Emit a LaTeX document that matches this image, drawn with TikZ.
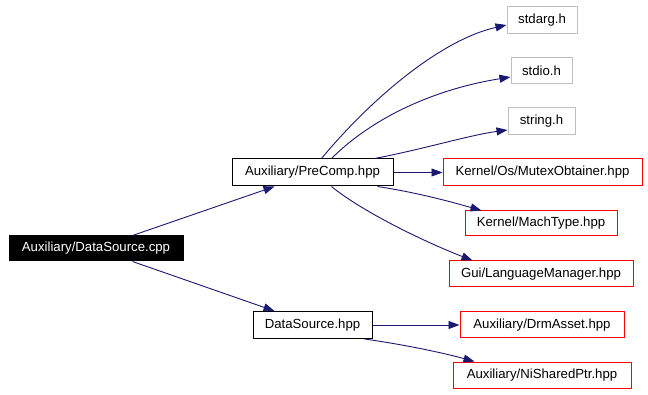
\documentclass[tikz,border=0pt]{standalone}
\usepackage{fontspec}
\setmainfont{Liberation Sans}
\usetikzlibrary{arrows.meta,calc}
\definecolor{edgeblue}{HTML}{191970}
\definecolor{boxgray}{HTML}{BFBFBF}
\tikzset{
  filebox/.style={draw=black, line width=1pt, fill=white, inner sep=0pt,
    minimum height=26pt, font=\fontsize{13.2}{15}\selectfont, anchor=center},
  rootbox/.style={filebox, fill=black, text=white},
  extbox/.style={filebox, draw=boxgray},
  missbox/.style={filebox, draw=red},
  dep/.style={draw=edgeblue, line width=0.9pt,
    -{Triangle[length=11pt,width=8pt]}, fill=none},
}
\begin{document}
\begin{tikzpicture}[x=1pt,y=-1pt]
\useasboundingbox[fill=white] (0,0) rectangle (648,395);

% source file and its direct includes
\node[rootbox, minimum width=174pt, minimum height=25pt] (cpp) at (96,248.5) {Auxiliary/DataSource.cpp};
\node[filebox, minimum width=161pt, minimum height=27pt] (pre) at (312.5,172.5) {Auxiliary/PreComp.hpp};
\node[filebox, minimum width=119pt, minimum height=27pt] (dsh) at (312.5,325) {DataSource.hpp};

% headers pulled in by PreComp.hpp
\node[extbox, minimum width=70pt, minimum height=27pt] (stdarg) at (542,20.5) {stdarg.h};
\node[extbox, minimum width=61pt] (stdio) at (541.5,71) {stdio.h};
\node[extbox, minimum width=67pt, minimum height=27pt] (string) at (541.5,121.5) {string.h};
\node[missbox, minimum width=199pt, minimum height=27pt] (mutex) at (542.5,172.5) {Kernel/Os/MutexObtainer.hpp};
\node[missbox, minimum width=152pt, minimum height=25pt] (mach) at (541,223.5) {Kernel/MachType.hpp};
\node[missbox, minimum width=184pt] (lang) at (541,274) {Gui/LanguageManager.hpp};

% headers pulled in by DataSource.hpp
\node[missbox, minimum width=164pt] (drm) at (542,325) {Auxiliary/DrmAsset.hpp};
\node[missbox, minimum width=178pt] (nisp) at (542,375) {Auxiliary/NiSharedPtr.hpp};

% include edges
\draw[dep] ($(cpp.north west)+(124,0)$) -- ($(pre.south west)+(43,0)$);
\draw[dep] ($(cpp.south west)+(124,0)$) -- ($(dsh.north west)+(22,0)$);

\draw[dep] ($(pre.north west)+(90,0)$) .. controls (370,100) and (440,40) .. ($(stdarg.west)+(0,4.5)$);
\draw[dep] ($(pre.north west)+(100,0)$) .. controls (370,120) and (430,90) .. ($(stdio.west)+(0,6)$);
\draw[dep] ($(pre.north west)+(143,0)$) .. controls (420,150) and (470,135) .. ($(string.west)+(0,8.5)$);
\draw[dep] (pre.east) -- (mutex.west);
\draw[dep] ($(pre.south west)+(146,0)$) .. controls (420,193) and (455,203) .. ($(mach.north west)+(17,0)$);
\draw[dep] ($(pre.south west)+(100,0)$) .. controls (360,210) and (420,240) .. ($(lang.north west)+(24,0)$);

\draw[dep] (dsh.east) -- (drm.west);
\draw[dep] ($(dsh.south west)+(112,0)$) .. controls (400,344) and (440,352) .. ($(nisp.north west)+(22,0)$);
\end{tikzpicture}
\end{document}
